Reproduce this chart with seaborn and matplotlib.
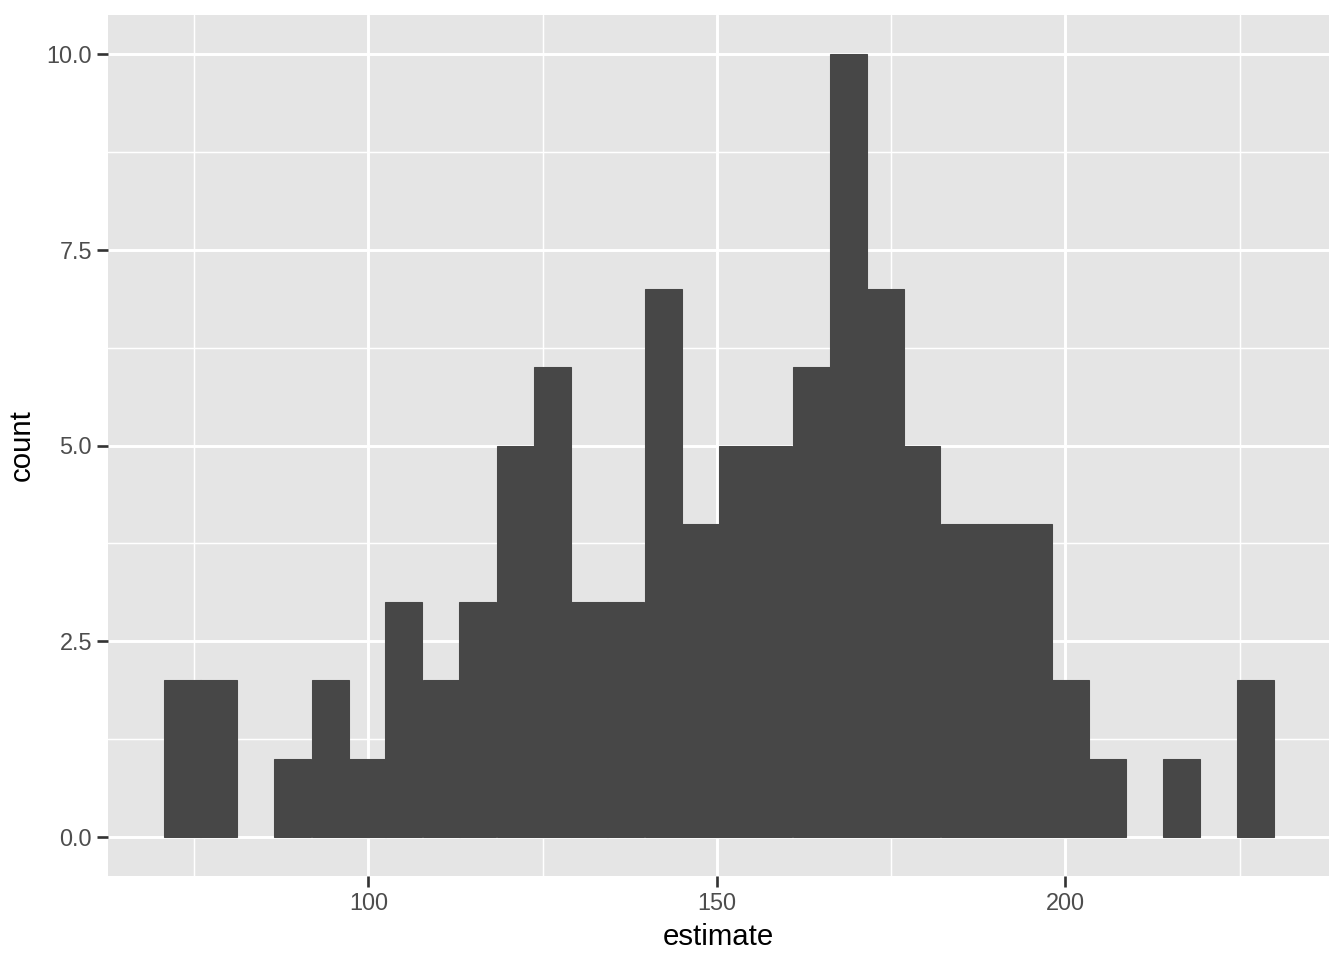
import matplotlib
matplotlib.use("Agg")
import matplotlib.pyplot as plt
import seaborn as sns
import numpy as np
import pandas as pd

# data (30 bins)
bin_start = 70.63
bin_width = 5.307
counts = [2, 2, 0, 1, 2, 1, 3, 2, 3, 5, 6, 3, 3, 7, 4, 5, 5, 6, 10, 7,
          5, 4, 4, 4, 2, 1, 0, 1, 0, 2]

edges = bin_start + bin_width * np.arange(len(counts) + 1)
centers = (edges[:-1] + edges[1:]) / 2
df = pd.DataFrame({'estimate': centers, 'n': counts})

sns.set_theme(style="darkgrid")
plt.rcParams['font.family'] = ['Liberation Sans', 'DejaVu Sans']

fig = plt.figure(figsize=(7, 5), dpi=192)
ax = fig.add_axes([108/1344, 1 - 876/960, (1329-108)/1344, (876-15)/960])
ax.set_facecolor('#E5E5E5')

sns.histplot(data=df, x='estimate', weights='n', bins=edges.tolist(), ax=ax,
             color='#474747', edgecolor='#474747', linewidth=0.4, alpha=1)
for p in ax.patches:
    if p.get_height() == 0:
        p.set_linewidth(0)

span = edges[-1] - edges[0]
ax.set_xlim(edges[0] - 0.05 * span, edges[-1] + 0.05 * span)
ax.set_ylim(-0.5, 10.5)
ax.set_xticks([100, 150, 200])
ax.set_xticks([75, 125, 175, 225], minor=True)
ax.set_yticks([0, 2.5, 5.0, 7.5, 10.0])
ax.set_yticks([1.25, 3.75, 6.25, 8.75], minor=True)
ax.set_yticklabels(['0.0', '2.5', '5.0', '7.5', '10.0'])
ax.set_axisbelow(True)
ax.grid(which='major', color='white', linewidth=1.1)
ax.grid(which='minor', color='white', linewidth=0.55)
for s in ax.spines.values():
    s.set_visible(False)
ax.tick_params(axis='both', which='major', length=4, width=1, color='#333333',
               labelsize=8.8, labelcolor='#4D4D4D', pad=2, direction='out',
               bottom=True, left=True)
ax.tick_params(axis='both', which='minor', length=0)
ax.set_xlabel('estimate', fontsize=11, color='black', labelpad=3)
ax.set_ylabel('count', fontsize=11, color='black', labelpad=4)

fig.savefig('out.png', dpi=192)
